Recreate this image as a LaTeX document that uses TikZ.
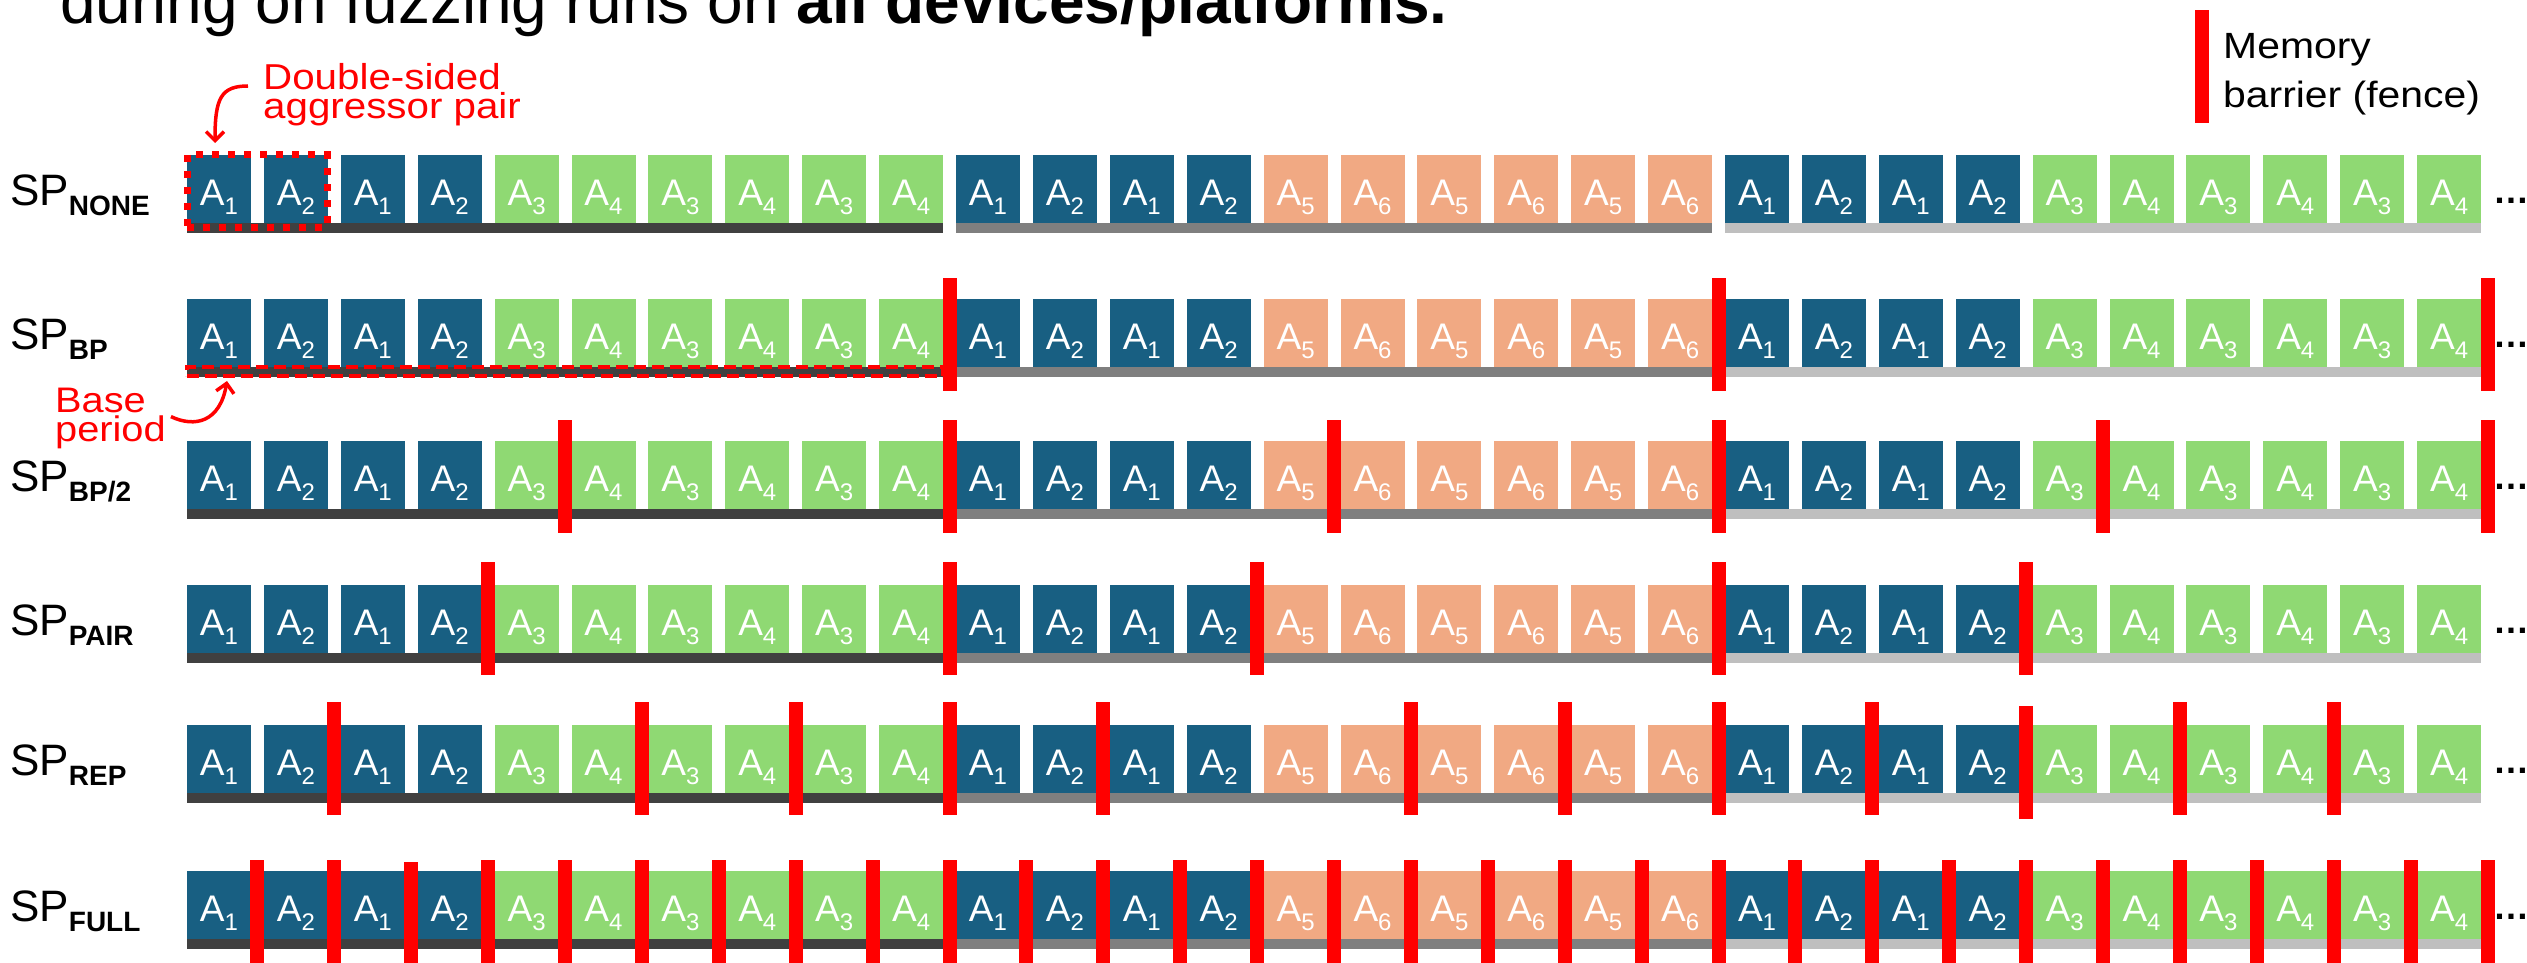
\documentclass[tikz,border=0pt]{standalone}
\usepackage{fontspec}
\setmainfont{Liberation Sans}
\newfontfamily\widefont[FakeStretch=1.12]{Liberation Sans}
\usetikzlibrary{arrows.meta,calc}
\definecolor{cblue}{HTML}{185F82}
\definecolor{cgreen}{HTML}{8FD973}
\definecolor{csalmon}{HTML}{F1A983}
\definecolor{cbarA}{HTML}{404040}
\definecolor{cbarB}{HTML}{7F7F7F}
\definecolor{cbarC}{HTML}{BFBFBF}
\definecolor{fencered}{HTML}{FF0000}
\newcommand\boxsub[1]{\raisebox{-9pt}{\fontsize{24}{24}\selectfont #1}}
\newcommand\splabel[1]{{\fontsize{44}{44}\selectfont SP}\raisebox{-10pt}{\fontsize{28}{28}\selectfont\bfseries #1}}
\begin{document}
\begin{tikzpicture}[x=1pt,y=-1pt,
  abox/.style={minimum width=64pt, minimum height=68pt, inner sep=0pt, outer sep=0pt, anchor=north west, text=white, font=\fontsize{37}{37}\selectfont, text height=42pt, text depth=10pt},
  fence/.style={fill=fencered},
  redtext/.style={text=fencered, font=\widefont\fontsize{36}{29.5}\selectfont, align=left, inner sep=0pt, anchor=north west},
  rowlabel/.style={anchor=base west, inner sep=0pt},
  dots/.style={anchor=base west, inner sep=0pt, font=\fontsize{36}{36}\selectfont\bfseries},
  annot/.style={draw=fencered, line width=3.5pt, -{Straight Barb[length=9pt,width=18pt]}},
  pairbox/.style={draw=fencered, line width=7pt, dash pattern=on 7pt off 9pt, minimum width=140pt, minimum height=72pt, inner sep=0pt, outer sep=0pt, anchor=north west},
  bpbox/.style={draw=fencered, line width=4pt, dash pattern=on 12pt off 6pt, minimum width=756pt, minimum height=9pt, inner sep=0pt, outer sep=0pt, anchor=north west}
]
\path[use as bounding box] (0,0) rectangle (2527,963);
\clip (0,0) rectangle (2527,963);

% title (cut off at top)
\node[anchor=base west, inner sep=0pt, font=\fontsize{64}{64}\selectfont] (title) at (60,24) {during on fuzzing runs on \textbf{all devices/platforms.}};

% legend
\fill[fence] (2195,10) rectangle (2209,123);
\node[anchor=north west, inner sep=0pt, align=left, font=\widefont\fontsize{36.5}{49}\selectfont] (legend) at (2223,33) {Memory\\barrier (fence)};

% rows of boxes
\foreach \r/\t in {1/155,2/299,3/441,4/585,5/725,6/871}{
  \foreach \i in {0,...,29}{
    \pgfmathtruncatemacro\g{floor(\i/10)}
    \pgfmathtruncatemacro\j{\i-10*\g}
    \pgfmathtruncatemacro\k{mod(\j,2)}
    \ifnum\j<4 \def\col{cblue}\pgfmathtruncatemacro\n{1+\k}\else
      \ifnum\g=1 \def\col{csalmon}\pgfmathtruncatemacro\n{5+\k}\else\def\col{cgreen}\pgfmathtruncatemacro\n{3+\k}\fi\fi
    \node[abox, fill=\col] (b\r-\i) at ({187+76.9*\i},\t) {A\boxsub{\n}};
  }
  \fill[cbarA] (b\r-0.south west) rectangle ([yshift=-10pt]b\r-9.south east);
  \fill[cbarB] (b\r-10.south west) rectangle ([yshift=-10pt]b\r-19.south east);
  \fill[cbarC] (b\r-20.south west) rectangle ([yshift=-10pt]b\r-29.south east);
  \node[dots] (e\r) at (2493,\t+48) {…};
}

% row labels
\node[rowlabel] (l1) at (10,205) {\splabel{NONE}};
\node[rowlabel] (l2) at (10,349) {\splabel{BP}};
\node[rowlabel] (l3) at (10,491) {\splabel{BP/2}};
\node[rowlabel] (l4) at (10,635) {\splabel{PAIR}};
\node[rowlabel] (l5) at (10,775) {\splabel{REP}};
\node[rowlabel] (l6) at (10,921) {\splabel{FULL}};

% fences
\foreach \b in {10,20,30} \fill[fence] ({187+76.9*\b-13.45},278) rectangle ++(14,113);
\foreach \b in {5,10,15,20,25,30} \fill[fence] ({187+76.9*\b-13.45},420) rectangle ++(14,113);
\foreach \b in {4,10,14,20,24} \fill[fence] ({187+76.9*\b-13.45},562) rectangle ++(14,113);
\foreach \b in {2,6,8,10,12,16,18,20,22,26,28} \fill[fence] ({187+76.9*\b-13.45},702) rectangle ++(14,113);
\fill[fence] ({187+76.9*24-13.45},706) rectangle ++(14,113);
\foreach \b in {1,2,4,5,...,30} \fill[fence] ({187+76.9*\b-13.45},860) rectangle ++(14,113);
\fill[fence] ({187+76.9*3-13.45},862) rectangle ++(14,113);

% annotations
\node[pairbox] (pair) at (187,155) {};
\node[redtext] (dstext) at (263,63) {Double-sided\\aggressor pair};
\coordinate (dsStart) at (248,86);
\draw[annot] (dsStart) .. controls (221,86) and (215,98) .. ([xshift=28pt,yshift=12pt]pair.north west);

\node[bpbox] (bp) at (187,367) {};
\node[redtext, font=\widefont\fontsize{35.5}{29}\selectfont] (bptext) at (55,388) {Base\\period};
\draw[annot] ([xshift=5pt,yshift=2pt]bptext.east) .. controls (195,428) and (220,422) .. ([xshift=40pt,yshift=-5pt]bp.south west);
\end{tikzpicture}
\end{document}
